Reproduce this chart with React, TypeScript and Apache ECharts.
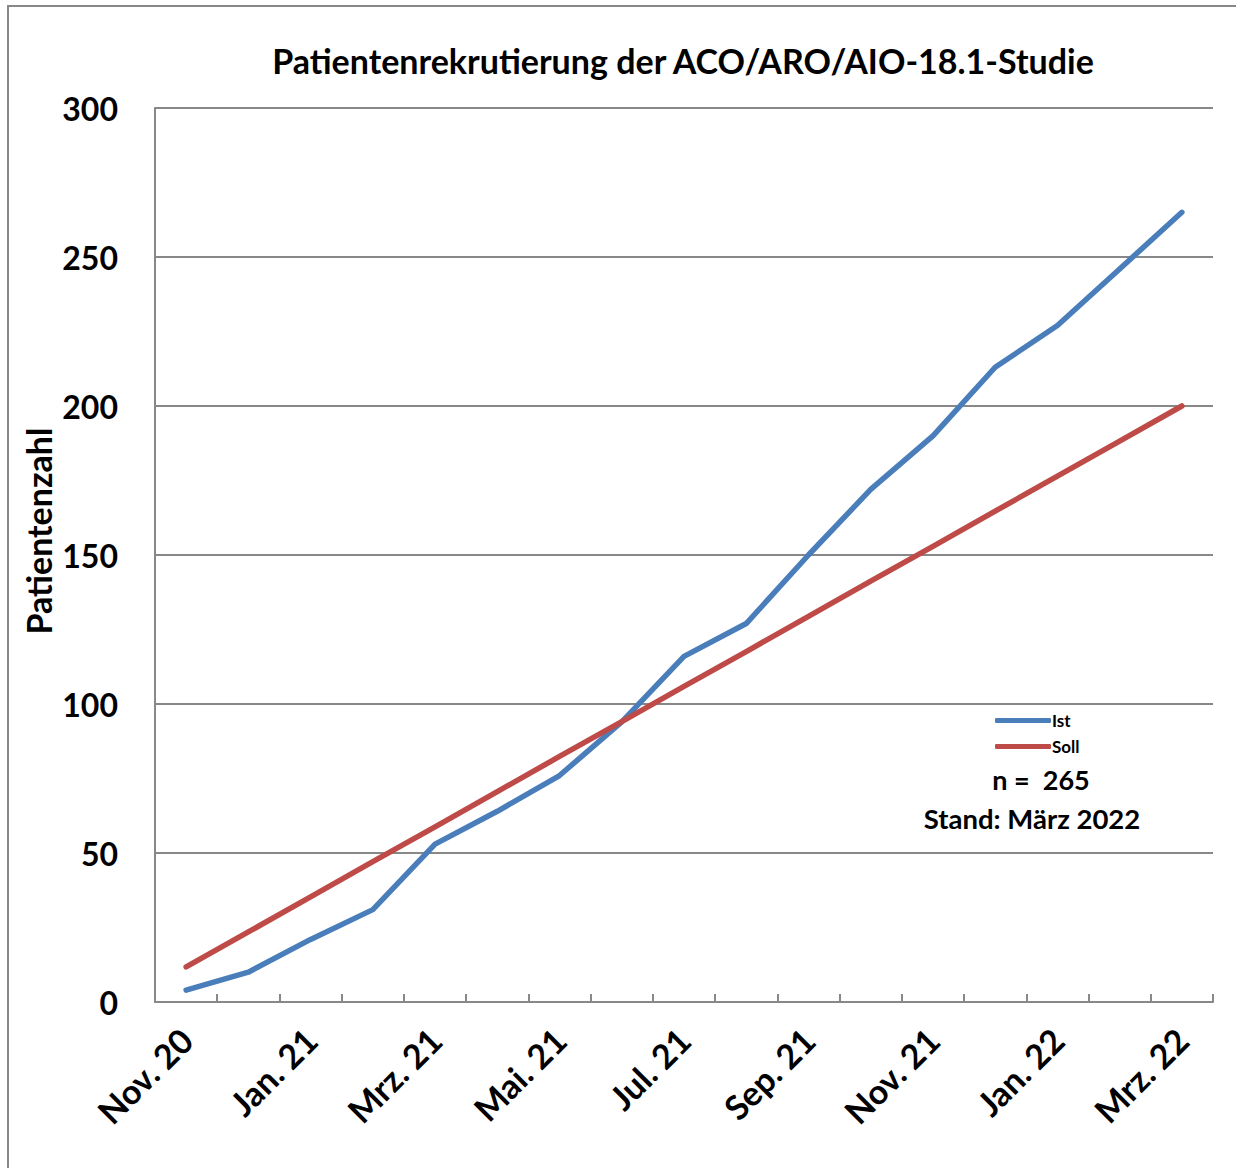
import React, { useEffect, useRef } from "react";
import * as echarts from "echarts";

const categories = [
  "Nov. 20", "Dez. 20", "Jan. 21", "Feb. 21", "Mrz. 21", "Apr. 21", "Mai. 21", "Jun. 21",
  "Jul. 21", "Aug. 21", "Sep. 21", "Okt. 21", "Nov. 21", "Dez. 21", "Jan. 22", "Feb. 22", "Mrz. 22",
];
const istValues = [4, 10, 21, 31, 53, 64, 76, 94, 116, 127, 150, 172, 190, 213, 227, 246, 265];
const sollValues = [11.8, 23.5, 35.3, 47.1, 58.8, 70.6, 82.4, 94.1, 105.9, 117.6, 129.4, 141.2, 152.9, 164.7, 176.5, 188.2, 200];
const yTicks = [0, 50, 100, 150, 200, 250, 300];

const titleText = "Patientenrekrutierung der ACO/ARO/AIO-18.1-Studie";
const yAxisName = "Patientenzahl";
const nText = "n =  265";
const standText = "Stand: März 2022";

const FONT = "Lato, 'Open Sans', sans-serif";

export default function App() {
  const ref = useRef<HTMLDivElement>(null);
  useEffect(() => {
    if (!ref.current) return;
    const chart = echarts.init(ref.current, undefined, { renderer: "svg" });
    chart.setOption({
      animation: false,
      backgroundColor: "#ffffff",
      title: {
        text: titleText,
        left: 678,
        textAlign: "center",
        top: 38,
        textStyle: { fontFamily: FONT, fontWeight: "bold", fontSize: 34, color: "#000" },
      },
      grid: { left: 155, right: 23, top: 108, bottom: 166 },
      legend: {
        data: ["Ist", "Soll"],
        orient: "vertical",
        left: 990,
        top: 707,
        itemWidth: 56,
        itemHeight: 5,
        itemGap: 9,
        textStyle: { fontFamily: FONT, fontWeight: "bold", fontSize: 17, color: "#000", padding: [0, 0, 0, -4] },
        icon: "roundRect",
      },
      xAxis: {
        type: "category",
        data: categories,
        boundaryGap: true,
        axisLine: { lineStyle: { color: "#888", width: 2 } },
        axisTick: { show: true, inside: true, length: 8, interval: 0, lineStyle: { color: "#888", width: 2 } },
        axisLabel: {
          interval: 1,
          rotate: 45,
          margin: 32,
          fontFamily: FONT,
          fontWeight: "bold",
          fontSize: 34,
          color: "#000",
        },
      },
      yAxis: {
        type: "value",
        min: 0,
        max: 300,
        interval: 50,
        axisLine: { show: true, lineStyle: { color: "#888", width: 2 } },
        axisTick: { show: false },
        axisLabel: {
          margin: 37,
          fontFamily: FONT,
          fontWeight: "bold",
          fontSize: 32,
          color: "#000",
          formatter: (v: number) => (yTicks.includes(v) ? String(v) : ""),
        },
        splitLine: { show: true, lineStyle: { color: "#888", width: 2 } },
      },
      series: [
        {
          name: "Ist",
          type: "line",
          data: istValues,
          showSymbol: false,
          symbol: "none",
          lineStyle: { color: "#4A7EBB", width: 5.5, cap: "round", join: "round" },
          itemStyle: { color: "#4A7EBB" },
          z: 3,
        },
        {
          name: "Soll",
          type: "line",
          data: sollValues,
          showSymbol: false,
          symbol: "none",
          lineStyle: { color: "#BE4B48", width: 5.5, cap: "round", join: "round" },
          itemStyle: { color: "#BE4B48" },
          z: 4,
        },
      ],
      graphic: [
        {
          type: "rect",
          shape: { x: 8, y: 6, width: 1240, height: 1180 },
          style: { fill: "none", stroke: "#888", lineWidth: 2 },
          silent: true,
          z: -1,
        },
        {
          type: "text",
          x: 38,
          y: 531,
          rotation: Math.PI / 2,
          style: {
            text: yAxisName,
            fontFamily: FONT,
            fontWeight: "bold",
            fontSize: 34,
            fill: "#000",
            align: "center",
            verticalAlign: "middle",
          },
        },
        {
          type: "text",
          x: 1041,
          y: 779,
          style: {
            text: nText,
            fontFamily: FONT,
            fontWeight: "bold",
            fontSize: 27,
            fill: "#000",
            align: "center",
            verticalAlign: "middle",
          },
        },
        {
          type: "text",
          x: 1032,
          y: 818,
          style: {
            text: standText,
            fontFamily: FONT,
            fontWeight: "bold",
            fontSize: 27.5,
            fill: "#000",
            align: "center",
            verticalAlign: "middle",
          },
        },
      ],
    });
    return () => chart.dispose();
  }, []);
  return (
    <div
      ref={ref}
      style={{ position: "absolute", left: 0, top: 0, width: 1236, height: 1168 }}
    />
  );
}
